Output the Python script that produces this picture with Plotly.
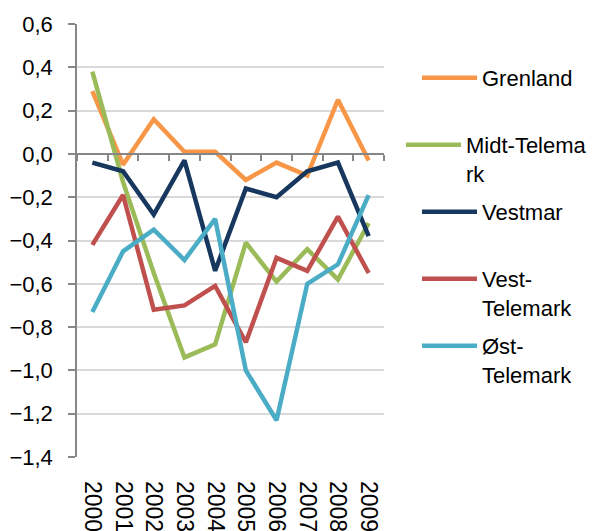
import plotly.graph_objects as go

years = ["2000", "2001", "2002", "2003", "2004", "2005", "2006", "2007", "2008", "2009"]

grenland = [0.29, -0.05, 0.16, 0.01, 0.01, -0.12, -0.04, -0.10, 0.25, -0.03]
midt_telemark = [0.38, -0.13, -0.55, -0.94, -0.88, -0.41, -0.59, -0.44, -0.58, -0.32]
vestmar = [-0.04, -0.08, -0.28, -0.03, -0.54, -0.16, -0.20, -0.08, -0.04, -0.38]
vest_telemark = [-0.42, -0.19, -0.72, -0.70, -0.61, -0.87, -0.48, -0.54, -0.29, -0.55]
ost_telemark = [-0.73, -0.45, -0.35, -0.49, -0.30, -1.00, -1.23, -0.60, -0.51, -0.19]

series_names = ["Grenland", "Midt-Telema<br>rk", "Vestmar", "Vest-<br>Telemark", "Øst-<br>Telemark"]
series_values = [grenland, midt_telemark, vestmar, vest_telemark, ost_telemark]
colors = ["#F79646", "#9BBB59", "#17375E", "#C0504D", "#4BACC6"]
legend_ids = ["legend", "legend2", "legend3", "legend4", "legend5"]
x_refs = ["x", "x2", "x2", "x2", "x2"]

FONT = "Liberation Sans, Arial, sans-serif"

fig = go.Figure()
for name, vals, col, lg, xr in zip(series_names, series_values, colors, legend_ids, x_refs):
    fig.add_trace(go.Scatter(
        x=years, y=vals, name=name, mode="lines",
        line=dict(color=col, width=4.5),
        legend=lg, xaxis=xr, yaxis="y",
    ))

# page body has an 8px margin: figure spans 8..601 x 8..531 in the window
OFF = 8
W, H = 601 - OFF, 531 - OFF
plot_left, plot_right = 77 - OFF, 384 - OFF
plot_top, plot_bottom = 24 - OFF, 457 - OFF

def px(p):
    return (p - OFF - plot_left) / (plot_right - plot_left)
def py(p):
    return (plot_bottom - (p - OFF)) / (plot_bottom - plot_top)

legend_centers = [76, 143, 210, 277, 344]
legend_lefts = [417, 401, 417, 417, 417]
leg_common = dict(font=dict(family=FONT, size=22, color="#000000"),
                  bgcolor="rgba(0,0,0,0)", borderwidth=0,
                  xanchor="left", yanchor="top", valign="top",
                  itemwidth=55, tracegroupgap=0)
legends = {}
for lg, c, lx in zip(legend_ids, legend_centers, legend_lefts):
    legends[lg] = dict(leg_common, x=px(lx), y=py(c - 19))

fig.update_layout(
    width=W, height=H,
    margin=dict(l=plot_left, r=W - plot_right, t=plot_top, b=H - plot_bottom,
                autoexpand=False),
    paper_bgcolor="white", plot_bgcolor="white",
    separators=", ",
    font=dict(family=FONT, size=22, color="#000000"),
    showlegend=True,
    xaxis=dict(
        type="category", range=[-0.5, 9.5],
        anchor="free", position=0.7,
        showline=True, linecolor="#868686", linewidth=1.5,
        ticks="outside", tickson="boundaries", ticklen=6,
        tickcolor="#868686", tickwidth=1.5,
        showticklabels=False, showgrid=False, zeroline=False,
    ),
    xaxis2=dict(
        type="category", overlaying="x", matches="x", anchor="y", side="bottom",
        range=[-0.5, 9.5],
        tickangle=90, ticks="", showline=False, showgrid=False,
        zeroline=False, ticklabelstandoff=23, automargin=False,
        tickfont=dict(family=FONT, size=23, color="#000000"),
    ),
    yaxis=dict(
        range=[-1.4, 0.6], tick0=-1.4, dtick=0.2, tickformat=".1f",
        showline=True, linecolor="#868686", linewidth=1.5,
        ticks="outside", ticklen=7, tickcolor="#868686", tickwidth=1.5,
        showgrid=True, gridcolor="#D9D9D9", gridwidth=1.5,
        zeroline=False, ticklabelstandoff=11, automargin=False,
        tickfont=dict(family=FONT, size=22, color="#000000"),
    ),
    **legends,
)

fig.write_html("out.html")
